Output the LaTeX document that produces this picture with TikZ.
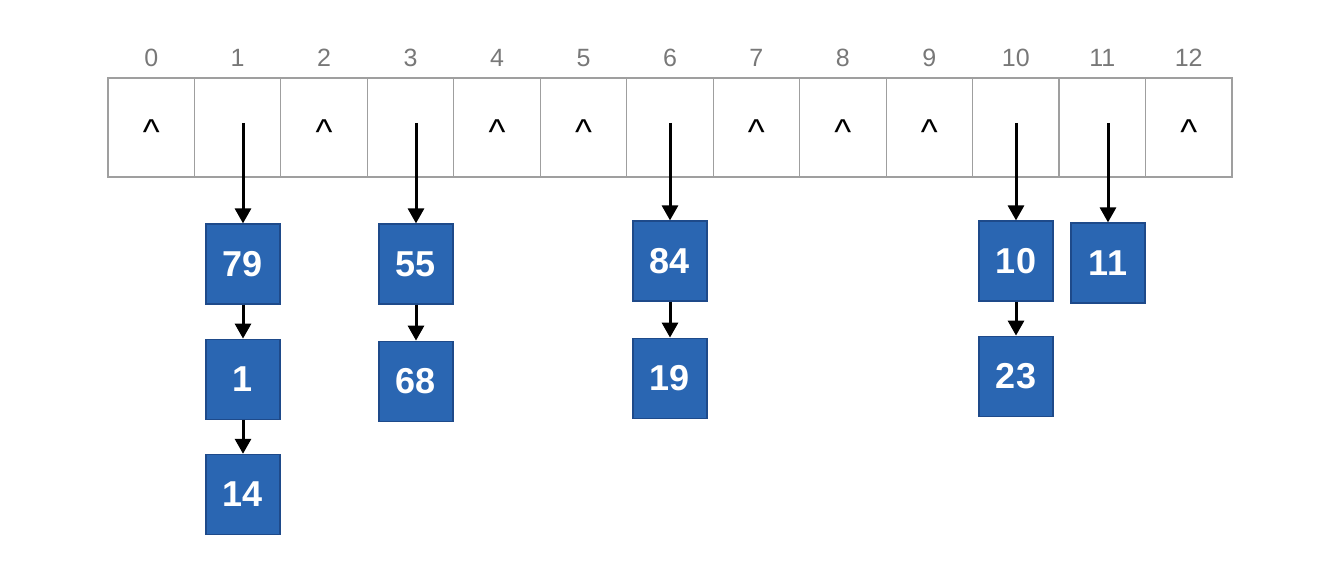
\documentclass[tikz,border=0pt]{standalone}
\usepackage{fontspec}
\setmainfont{Liberation Sans}
\usetikzlibrary{arrows.meta,positioning}
\definecolor{bucketblue}{RGB}{42,102,178}
\definecolor{bucketedge}{RGB}{30,74,138}
\definecolor{idxgray}{RGB}{120,120,120}
\tikzset{
  cell/.style={draw=gray!75,line width=0.6pt,minimum width=43.23pt,minimum height=49.5pt,inner sep=0pt},
  idx/.style={text=idxgray,font=\fontsize{12.5}{13}\selectfont},
  nil/.style={font=\fontsize{18}{18}\selectfont,anchor=base},
  val/.style={draw=bucketedge,fill=bucketblue,line width=0.6pt,minimum width=37pt,minimum height=40pt,inner sep=0pt,text=white,font=\fontsize{18}{18}\selectfont\bfseries},
  ptr/.style={-{Triangle[length=7.5pt,width=8pt]},line width=1.5pt}
}

\begin{document}
\begin{tikzpicture}[x=0.5pt,y=-0.5pt]
  \useasboundingbox (0,0) rectangle (1340,588);
  % the table
  \foreach \i in {0,...,12}{
    \node[cell] (c\i) at ({151.2+86.46*\i},127.5) {};
    \node[idx] (i\i) at ({151.2+86.46*\i},58) {\i};
  }
  % empty slots
  \foreach \i in {0,2,4,5,7,8,9,12}
    \node[nil] (e\i) at ({151.2+86.46*\i},145) {\textasciicircum};

  % chains
  \node[val] (n79) at (243,264) {79};
  \node[val,below=17pt of n79] (n1) {1};
  \node[val,below=17pt of n1] (n14) {14};
  \node[val] (n55) at (416,264) {55};
  \node[val,below=18pt of n55] (n68) {68};
  \node[val] (n84) at (670,261) {84};
  \node[val,below=18pt of n84] (n19) {19};
  \node[val] (n10) at (1016,261) {10};
  \node[val,below=17pt of n10] (n23) {23};
  \node[val] (n11) at (1108,263) {11};

  \coordinate (p1) at (243,123);
  \coordinate (p3) at (416,123);
  \coordinate (p6) at (670,123);
  \coordinate (p10) at (1016,123);
  \coordinate (p11) at (1108,123);

  \draw[ptr] (p1)--(n79);
  \draw[ptr] (p3)--(n55);
  \draw[ptr] (p6)--(n84);
  \draw[ptr] (p10)--(n10);
  \draw[ptr] (p11)--(n11);
  \draw[ptr] (n79)--(n1);
  \draw[ptr] (n1)--(n14);
  \draw[ptr] (n55)--(n68);
  \draw[ptr] (n84)--(n19);
  \draw[ptr] (n10)--(n23);
\end{tikzpicture}
\end{document}
